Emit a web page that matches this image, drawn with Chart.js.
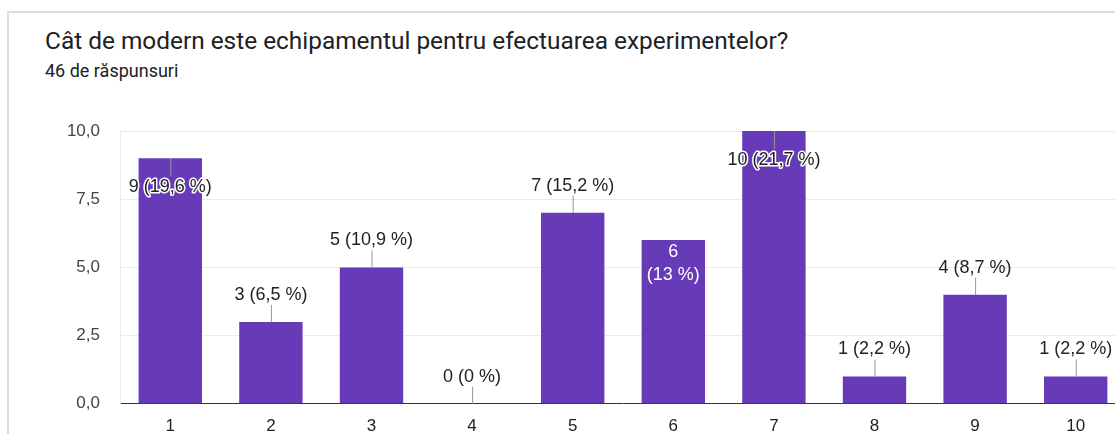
<!DOCTYPE html>
<html>
<head>
<meta charset="utf-8">
<script src="https://cdn.jsdelivr.net/npm/chart.js@4"></script>
<style>
  html, body { margin: 0; padding: 0; background: #fff; overflow: hidden; width: 1115px; height: 434px; }
  .card { position: absolute; left: 7px; top: 11px; width: 1200px; height: 500px;
          border-top: 2px solid #dadce0; border-left: 2px solid #dadce0; }
  .title { position: absolute; left: 45px; top: 26px; font: 24.4px Roboto, sans-serif; color: #202124; white-space: nowrap; }
  .subtitle { position: absolute; left: 45px; top: 60px; font: 18px Roboto, sans-serif; color: #202124; white-space: nowrap; }
  #wrap { position: absolute; left: 0; top: 0; width: 1126px; height: 434px; }
</style>
</head>
<body>
<div class="card"></div>
<div class="title">Cât de modern este echipamentul pentru efectuarea experimentelor?</div>
<div class="subtitle">46 de răspunsuri</div>
<div id="wrap"><canvas id="chart"></canvas></div>
<script>
// Answers on the 1..10 scale
const categories = ['1', '2', '3', '4', '5', '6', '7', '8', '9', '10'];
const counts = [9, 3, 5, 0, 7, 6, 10, 1, 4, 1];
const percents = ['19,6', '6,5', '10,9', '0', '15,2', '13', '21,7', '2,2', '8,7', '2,2'];
const yTicks = [0, 2.5, 5, 7.5, 10];

// where each annotation sits relative to its bar
const labelMode = ['halo', 'above', 'above', 'above', 'above', 'inside', 'halo', 'above', 'above', 'above'];

const annotations = {
  id: 'annotations',
  afterDatasetsDraw(chart) {
    const ctx = chart.ctx;
    const bars = chart.getDatasetMeta(0).data;
    ctx.save();
    ctx.font = '18px "Liberation Sans", Arial, sans-serif';
    ctx.textAlign = 'center';
    ctx.textBaseline = 'middle';
    bars.forEach((bar, i) => {
      const top = bar.y;
      const x = bar.x;
      const text = counts[i] + ' (' + percents[i] + ' %)';
      const mode = labelMode[i];
      ctx.strokeStyle = '#999';
      ctx.lineWidth = 1;
      if (mode === 'above') {
        ctx.beginPath();
        ctx.moveTo(x + 0.5, top);
        ctx.lineTo(x + 0.5, top - 17);
        ctx.stroke();
        ctx.fillStyle = '#222';
        ctx.fillText(text, x, top - 27);
      } else if (mode === 'halo') {
        ctx.beginPath();
        ctx.moveTo(x + 0.5, top);
        ctx.lineTo(x + 0.5, top + 18);
        ctx.stroke();
        ctx.strokeStyle = '#fff';
        ctx.lineWidth = 3;
        ctx.lineJoin = 'round';
        ctx.strokeText(text, x, top + 29);
        ctx.fillStyle = '#222';
        ctx.fillText(text, x, top + 29);
      } else {
        ctx.fillStyle = '#fff';
        ctx.fillText(String(counts[i]), x, top + 12);
        ctx.fillText('(' + percents[i] + ' %)', x, top + 35);
      }
    });
    ctx.restore();
  }
};

new Chart(document.getElementById('chart'), {
  type: 'bar',
  data: {
    labels: categories,
    datasets: [{
      data: counts,
      backgroundColor: '#673ab7',
      categoryPercentage: 0.63,
      barPercentage: 1.0
    }]
  },
  options: {
    responsive: true,
    maintainAspectRatio: false,
    animation: false,
    layout: { padding: { top: 131, right: 0, bottom: 0, left: 0 } },
    plugins: { legend: { display: false }, tooltip: { enabled: false } },
    scales: {
      x: {
        grid: { display: false },
        border: { color: '#333', width: 1 },
        ticks: { color: '#222', font: { family: '"Liberation Sans", Arial', size: 17 }, padding: 4 },
        afterFit(scale) { scale.height = 30; }
      },
      y: {
        min: 0,
        max: 10,
        afterBuildTicks(scale) { scale.ticks = yTicks.map(v => ({ value: v })); },
        grid: { color: '#ebebeb', drawTicks: false },
        border: { color: '#ebebeb' },
        ticks: {
          color: '#444',
          font: { family: '"Liberation Sans", Arial', size: 17 },
          padding: 20,
          callback: v => v.toFixed(1).replace('.', ',')
        },
        afterFit(scale) { scale.width = 120; }
      }
    }
  },
  plugins: [annotations]
});
</script>
</body>
</html>
